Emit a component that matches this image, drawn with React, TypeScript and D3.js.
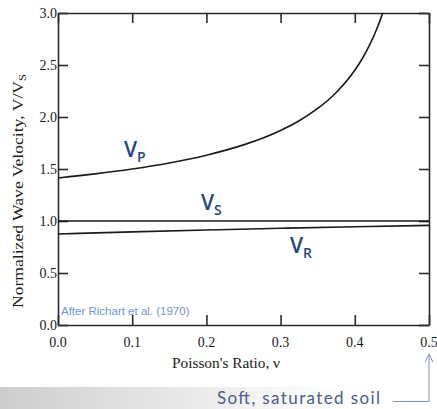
import { useEffect, useRef } from 'react';
import * as d3 from 'd3';

// Values (Richart et al. 1970)
const POISSON = [0, 0.05, 0.1, 0.15, 0.2, 0.25, 0.3, 0.325, 0.35, 0.375, 0.4, 0.41, 0.42, 0.43, 0.4375, 0.445];
const VP_RATIO = [1.414, 1.453, 1.5, 1.558, 1.633, 1.732, 1.871, 1.964, 2.082, 2.236, 2.449, 2.56, 2.693, 2.854, 3.0, 3.2];
const VS_NU = [0, 0.5];
const VS_RATIO = [1.0, 1.0];
const VR_NU = [0, 0.1, 0.2, 0.3, 0.4, 0.5];
const VR_RATIO = [0.875, 0.895, 0.913, 0.93, 0.945, 0.958];

const X_TICKS = [0, 0.1, 0.2, 0.3, 0.4, 0.5];
const Y_TICKS = [0, 0.5, 1.0, 1.5, 2.0, 2.5, 3.0];

const WIDTH = 437;
const HEIGHT = 409;
const PLOT = { left: 58, right: 429, top: 13, bottom: 325 };

const SERIF = '"Liberation Serif", "Times New Roman", serif';
const SANS = '"Open Sans", "Noto Sans", sans-serif';
const AXIS = '#2a2a2a';
const LABEL_BLUE = '#27467f';

export default function App() {
  const svgRef = useRef<SVGSVGElement>(null);

  useEffect(() => {
    const svg = d3.select(svgRef.current);
    svg.selectAll('*').remove();

    const x = d3.scaleLinear().domain([0, 0.5]).range([PLOT.left, PLOT.right]);
    const y = d3.scaleLinear().domain([0, 3]).range([PLOT.bottom, PLOT.top]);

    const defs = svg.append('defs');
    defs
      .append('clipPath')
      .attr('id', 'plot-clip')
      .append('rect')
      .attr('x', PLOT.left)
      .attr('y', PLOT.top)
      .attr('width', PLOT.right - PLOT.left)
      .attr('height', PLOT.bottom - PLOT.top);

    const grad = defs.append('linearGradient').attr('id', 'band-grad').attr('x1', '0%').attr('x2', '100%');
    grad.append('stop').attr('offset', '0%').attr('stop-color', '#cdcdcd');
    grad.append('stop').attr('offset', '55%').attr('stop-color', '#f1f1f1');
    grad.append('stop').attr('offset', '80%').attr('stop-color', '#ffffff');

    // grey band at the bottom
    svg.append('rect').attr('x', 0).attr('y', 387).attr('width', WIDTH).attr('height', HEIGHT - 387).attr('fill', 'url(#band-grad)');

    // Axes ------------------------------------------------------------------
    const fmt = d3.format('.1f');
    const bottomAxis = d3.axisBottom(x).tickValues(X_TICKS).tickFormat(() => '').tickSizeInner(-10).tickSizeOuter(0);
    const topAxis = d3.axisTop(x).tickValues(X_TICKS).tickFormat(() => '').tickSizeInner(-10).tickSizeOuter(0);
    const leftAxis = d3.axisLeft(y).tickValues(Y_TICKS).tickFormat(() => '').tickSizeInner(-10).tickSizeOuter(0);
    const rightAxis = d3.axisRight(y).tickValues(Y_TICKS).tickFormat(() => '').tickSizeInner(-10).tickSizeOuter(0);

    const styleAxis = (sel: any) => {
      sel.selectAll('path, line').attr('stroke', AXIS).attr('stroke-width', 1.6);
    };
    svg.append('g').attr('transform', `translate(0,${PLOT.bottom})`).call(bottomAxis).call(styleAxis);
    svg.append('g').attr('transform', `translate(0,${PLOT.top})`).call(topAxis).call(styleAxis);
    svg.append('g').attr('transform', `translate(${PLOT.left},0)`).call(leftAxis).call(styleAxis);
    svg.append('g').attr('transform', `translate(${PLOT.right},0)`).call(rightAxis).call(styleAxis);

    // tick labels
    svg
      .append('g')
      .selectAll('text')
      .data(X_TICKS)
      .join('text')
      .attr('x', (d) => x(d))
      .attr('y', 347)
      .attr('text-anchor', 'middle')
      .style('font-family', SERIF)
      .style('font-size', '14px')
      .style('fill', '#1a1a1a')
      .text((d) => fmt(d));

    svg
      .append('g')
      .selectAll('text')
      .data(Y_TICKS)
      .join('text')
      .attr('x', 57)
      .attr('y', (d) => y(d) + 5)
      .attr('text-anchor', 'end')
      .style('font-family', SERIF)
      .style('font-size', '14px')
      .style('fill', '#1a1a1a')
      .text((d) => fmt(d));

    // axis titles
    svg
      .append('text')
      .attr('x', 172)
      .attr('y', 368)
      .attr('textLength', 108)
      .attr('lengthAdjust', 'spacingAndGlyphs')
      .style('font-family', SERIF)
      .style('font-size', '14.5px')
      .style('fill', '#1a1a1a')
      .text("Poisson's Ratio, ν");

    const yTitle = svg
      .append('text')
      .attr('transform', 'translate(23,308) rotate(-90)')
      .attr('textLength', 234)
      .attr('lengthAdjust', 'spacingAndGlyphs')
      .style('font-family', SERIF)
      .style('font-size', '15.5px')
      .style('fill', '#1a1a1a');
    yTitle.append('tspan').text('Normalized Wave Velocity, V/V');
    yTitle.append('tspan').attr('dy', 3).style('font-size', '11px').text('S');

    // Curves ----------------------------------------------------------------
    const line = d3
      .line<[number, number]>()
      .x((d) => x(d[0]))
      .y((d) => y(d[1]))
      .curve(d3.curveMonotoneX);

    const curves = svg.append('g').attr('clip-path', 'url(#plot-clip)');
    const series: [number, number][][] = [
      POISSON.map((n, i) => [n, VP_RATIO[i]]),
      VS_NU.map((n, i) => [n, VS_RATIO[i]]),
      VR_NU.map((n, i) => [n, VR_RATIO[i]]),
    ];
    curves
      .selectAll('path')
      .data(series)
      .join('path')
      .attr('d', (d) => line(d))
      .attr('fill', 'none')
      .attr('stroke', '#1a1a1a')
      .attr('stroke-width', 1.6);

    // Curve labels
    const labels = [
      { main: 'V', sub: 'P', x: 124, y: 157 },
      { main: 'V', sub: 'S', x: 201, y: 210 },
      { main: 'V', sub: 'R', x: 290, y: 253 },
    ];
    for (const l of labels) {
      const t = svg
        .append('text')
        .attr('x', l.x)
        .attr('y', l.y)
        .style('font-family', SANS)
        .style('font-weight', 600)
        .style('font-size', '21px')
        .style('fill', LABEL_BLUE);
      t.append('tspan').text(l.main);
      t.append('tspan').attr('dy', 5).style('font-size', '14px').text(l.sub);
    }

    svg
      .append('text')
      .attr('x', 61)
      .attr('y', 315)
      .style('font-family', '"Liberation Sans", Arial, sans-serif')
      .style('font-size', '11.5px')
      .style('fill', '#6e95d6')
      .text('After Richart et al. (1970)');

    // Soft, saturated soil annotation
    svg
      .append('text')
      .attr('x', 217)
      .attr('y', 404)
      .attr('textLength', 163)
      .style('font-family', '"Lato", "Open Sans", sans-serif')
      .style('font-size', '17px')
      .style('fill', '#4b5d88')
      .text('Soft, saturated soil');

    svg
      .append('path')
      .attr('d', `M393,401.5 H${x(0.5)} V355`)
      .attr('fill', 'none')
      .attr('stroke', '#7f8fc9')
      .attr('stroke-width', 1);
    svg
      .append('path')
      .attr('d', `M${x(0.5) - 4},362 L${x(0.5)},354 L${x(0.5) + 4},362`)
      .attr('fill', 'none')
      .attr('stroke', '#7f8fc9')
      .attr('stroke-width', 1);
  }, []);

  return (
    <svg
      ref={svgRef}
      width={WIDTH}
      height={HEIGHT}
      style={{ position: 'absolute', left: 0, top: 0, background: '#fff' }}
    />
  );
}
